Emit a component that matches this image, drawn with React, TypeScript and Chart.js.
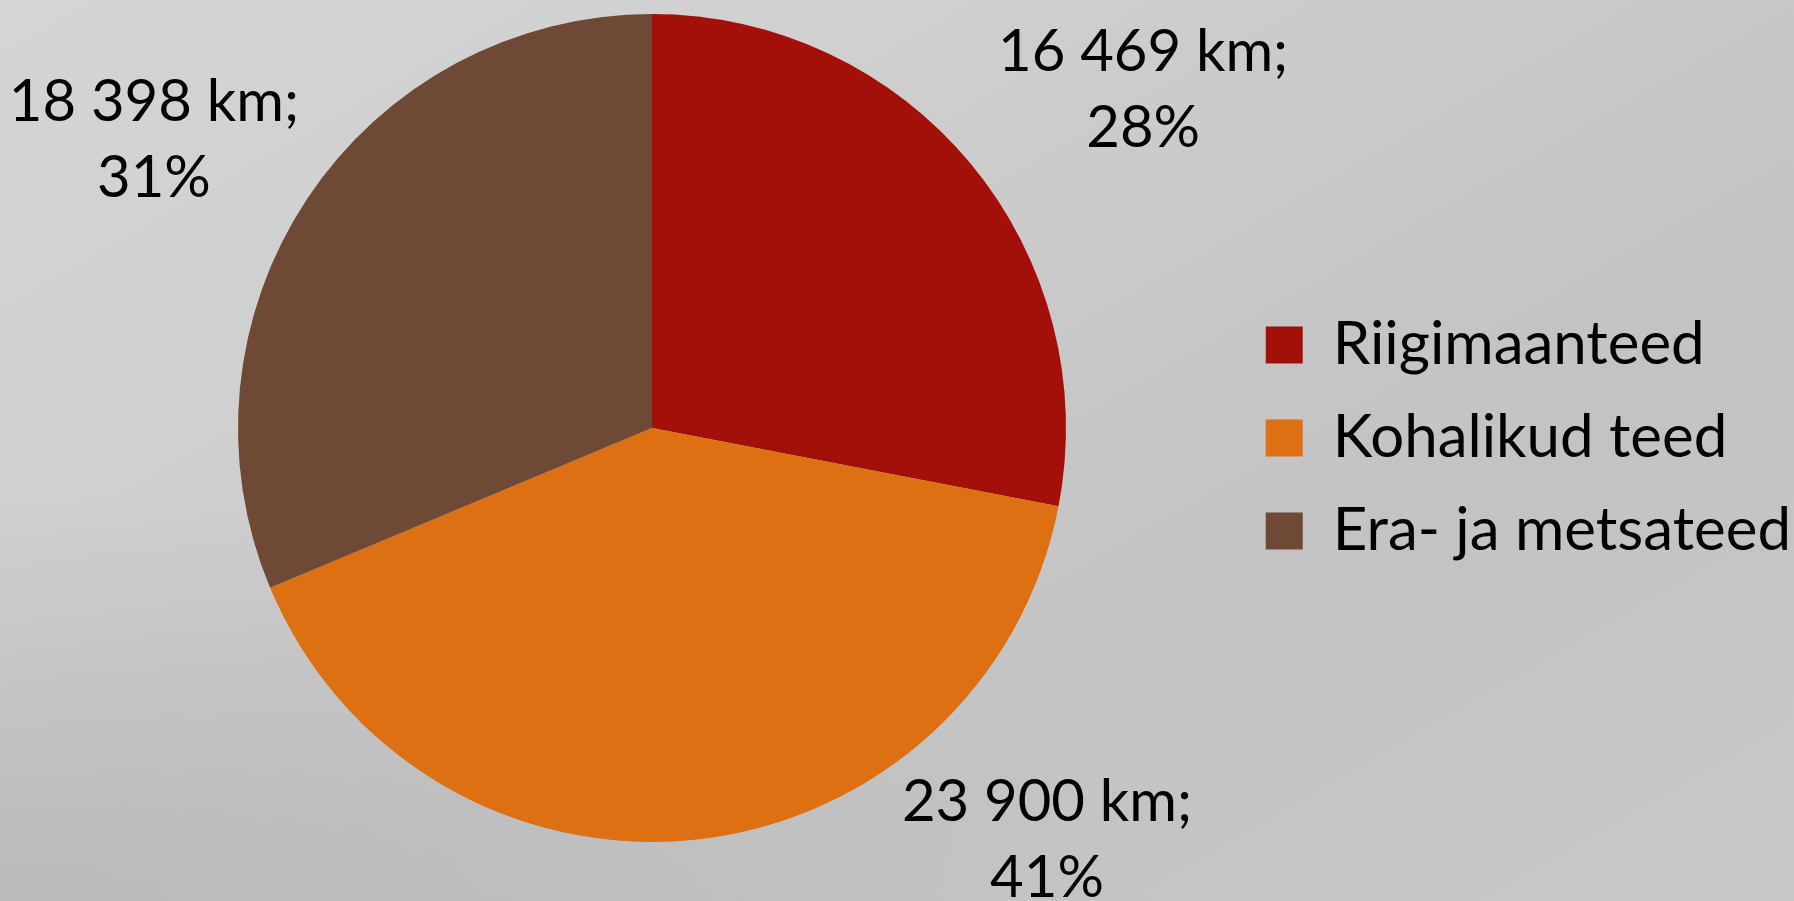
import React, { useEffect, useRef } from "react";
import { Chart, registerables } from "chart.js";

Chart.register(...registerables);

const categories = ["Riigimaanteed", "Kohalikud teed", "Era- ja metsateed"];
const lengthsKm = [16469, 23900, 18398];
const sliceColors = ["#A3100A", "#DD7013", "#6E4936"];

const FONT = "Lato, 'Open Sans', sans-serif";
const W = 1794;
const H = 901;
const PIE_CX = 652;
const LEGEND_FONT = 60;
const LEGEND_PAD = 33;
const LEGEND_BOX = 37;
const RIGHT_PAD = -7;

function fmtKm(n: number): string {
  return String(n).replace(/\B(?=(\d{3})+(?!\d))/g, " ");
}

const outsideLabels = {
  id: "outsideLabels",
  afterDatasetsDraw(chart: any, _args: any, opts: any) {
    const meta = chart.getDatasetMeta(0);
    const values: number[] = chart.data.datasets[0].data;
    const total = values.reduce((a, b) => a + b, 0);
    const ctx = chart.ctx;
    ctx.save();
    ctx.font = `${opts.size}px ${FONT}`;
    ctx.fillStyle = "#000";
    ctx.textAlign = "center";
    ctx.textBaseline = "alphabetic";
    const capH = ctx.measureText("0").actualBoundingBoxAscent;
    meta.data.forEach((arc: any, i: number) => {
      const { x, y, outerRadius } = arc.getProps(["x", "y", "outerRadius"], true);
      const p = opts.placement[i];
      const a = (p.angle * Math.PI) / 180;
      const cx = x + Math.cos(a) * outerRadius * p.dist;
      const cy = y + Math.sin(a) * outerRadius * p.dist;
      const pct = Math.round((values[i] / total) * 100);
      const l1 = `${fmtKm(values[i])} km;`;
      const l2 = `${pct}%`;
      ctx.fillText(l1, cx, cy - opts.lineGap / 2 + capH / 2);
      ctx.fillText(l2, cx, cy + opts.lineGap / 2 + capH / 2);
    });
    ctx.restore();
  },
};

export default function App() {
  const ref = useRef<HTMLCanvasElement | null>(null);

  useEffect(() => {
    if (!ref.current) return;
    // measure legend text to place the legend box flush with the right edge
    const mctx = document.createElement("canvas").getContext("2d")!;
    mctx.font = `${LEGEND_FONT}px ${FONT}`;
    const textW = Math.max(...categories.map((c) => mctx.measureText(c).width));
    const legendW = LEGEND_PAD + LEGEND_BOX + LEGEND_FONT / 2 + textW + 10;
    const legendLeft = W - RIGHT_PAD - legendW;
    const padLeft = Math.max(0, 2 * PIE_CX - legendLeft);

    const chart = new Chart(ref.current, {
      type: "pie",
      data: {
        labels: categories,
        datasets: [
          {
            data: lengthsKm,
            backgroundColor: sliceColors,
            borderWidth: 0,
            hoverOffset: 0,
          },
        ],
      },
      options: {
        animation: false,
        responsive: false,
        events: [],
        layout: { padding: { left: padLeft, right: RIGHT_PAD, top: 14, bottom: 59 } },
        plugins: {
          tooltip: { enabled: false },
          legend: {
            position: "right",
            align: "center",
            title: {
              display: true,
              text: "",
              font: { size: 10, lineHeight: 1 },
              padding: { top: 5, bottom: 5 },
            },
            labels: {
              boxWidth: LEGEND_BOX,
              boxHeight: LEGEND_BOX,
              padding: LEGEND_PAD,
              color: "#000",
              font: { family: FONT, size: LEGEND_FONT },
            },
          },
          outsideLabels: {
            size: 58,
            lineGap: 76,
            placement: [
              { angle: -34.7, dist: 1.443 },
              { angle: 46.1, dist: 1.376 },
              { angle: -149.8, dist: 1.392 },
            ],
          },
        } as any,
      },
      plugins: [outsideLabels],
    });
    return () => chart.destroy();
  }, []);

  return (
    <div
      style={{
        position: "fixed",
        left: 0,
        top: 0,
        width: W,
        height: H,
        background:
          "radial-gradient(ellipse 60% 45% at 0% 100%, rgba(175,175,175,0.6) 0%, rgba(175,175,175,0) 100%), linear-gradient(150deg, #d5d5d5 0%, #cfcfcf 30%, #c6c6c6 55%, #c3c3c3 70%, #c8c8c8 100%)",
      }}
    >
      <canvas ref={ref} width={W} height={H} style={{ display: "block" }} />
    </div>
  );
}
